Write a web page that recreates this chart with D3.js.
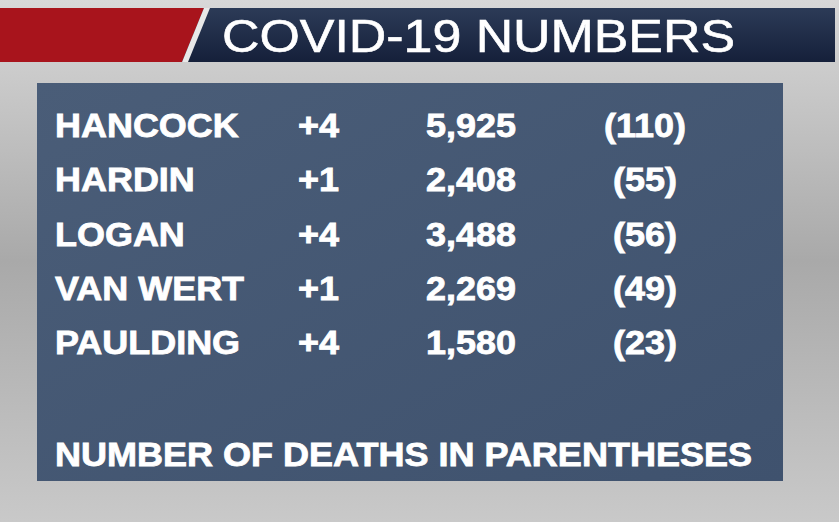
<!DOCTYPE html>
<html><head><meta charset="utf-8">
<script src="https://cdn.jsdelivr.net/npm/d3@7"></script>
<style>body{margin:0;overflow:hidden}</style>
</head><body>
<svg id="chart" width="839" height="522"></svg>
<script>
var counties = ['HANCOCK', 'HARDIN', 'LOGAN', 'VAN WERT', 'PAULDING'];
var changes = ['+4', '+1', '+4', '+1', '+4'];
var totals = [5925, 2408, 3488, 2269, 1580];
var deaths = [110, 55, 56, 49, 23];
var title = 'COVID-19 NUMBERS';
var footer = 'NUMBER OF DEATHS IN PARENTHESES';

var svg = d3.select('#chart');
var defs = svg.append('defs');

// grey studio background
var bg = defs.append('linearGradient').attr('id', 'bg').attr('x1', 0).attr('x2', 0).attr('y1', 0).attr('y2', 1);
bg.append('stop').attr('offset', '0%').attr('stop-color', '#d8d8d8');
bg.append('stop').attr('offset', '50%').attr('stop-color', '#a9a9a9');
bg.append('stop').attr('offset', '100%').attr('stop-color', '#c9c9c9');
svg.append('rect').attr('width', 839).attr('height', 522).attr('fill', 'url(#bg)');

var band = defs.append('linearGradient').attr('id', 'band').attr('x1', 0).attr('x2', 0).attr('y1', 0).attr('y2', 1);
band.append('stop').attr('offset', '0%').attr('stop-color', '#2c3b57');
band.append('stop').attr('offset', '100%').attr('stop-color', '#15203a');

// header
svg.append('path').attr('d', 'M0,8 L212,8 L190,62 L0,62 Z').attr('fill', '#a8141c');
svg.append('path').attr('d', 'M204,8 L835,8 L835,62 L182,62 Z').attr('fill', 'url(#band)');
svg.append('path').attr('d', 'M204,8 L210,8 L188,62 L182,62 Z').attr('fill', '#e8e8e8');
svg.append('text').attr('x', 222).attr('y', 52)
  .attr('font-family', 'Liberation Sans, Arial, sans-serif').attr('font-size', 46)
  .attr('textLength', 513).attr('lengthAdjust', 'spacingAndGlyphs')
  .attr('fill', '#fff').attr('stroke', '#fff').attr('stroke-width', 0.6).text(title);

// panel
var panel = defs.append('linearGradient').attr('id', 'panel').attr('x1', 0).attr('x2', 1).attr('y1', 0).attr('y2', 1);
panel.append('stop').attr('offset', '0%').attr('stop-color', '#4a5d78');
panel.append('stop').attr('offset', '100%').attr('stop-color', '#3f526e');
svg.append('rect').attr('x', 37).attr('y', 83).attr('width', 746).attr('height', 398).attr('fill', 'url(#panel)');

var y = d3.scalePoint().domain(counties).range([137, 354]);
var fmt = d3.format(',');
var font = 'Liberation Sans, Arial, sans-serif';

// wide bold text: stretch horizontally around anchor x
function wide(sel, x, anchor) {
  return sel.attr('text-anchor', anchor || 'start')
    .attr('transform', 'translate(' + x + ',0) scale(1.09,1)');
}

var rows = svg.selectAll('g.row').data(counties).enter().append('g')
  .attr('transform', function(d) { return 'translate(0,' + y(d) + ')'; })
  .attr('font-family', font).attr('font-weight', 'bold').attr('font-size', 33)
  .attr('fill', '#fff').attr('stroke', '#fff').attr('stroke-width', 0.8);
wide(rows.append('text'), 55).text(function(d) { return d; });
wide(rows.append('text'), 298).text(function(d, i) { return changes[i]; });
wide(rows.append('text'), 516, 'end').text(function(d, i) { return fmt(totals[i]); });
wide(rows.append('text'), 645, 'middle').text(function(d, i) { return '(' + deaths[i] + ')'; });

svg.append('text').attr('x', 55).attr('y', 466).attr('font-family', font).attr('font-weight', 'bold')
  .attr('font-size', 33).attr('textLength', 697).attr('lengthAdjust', 'spacingAndGlyphs')
  .attr('fill', '#fff').attr('stroke', '#fff').attr('stroke-width', 0.8).text(footer);
</script>
</body></html>
